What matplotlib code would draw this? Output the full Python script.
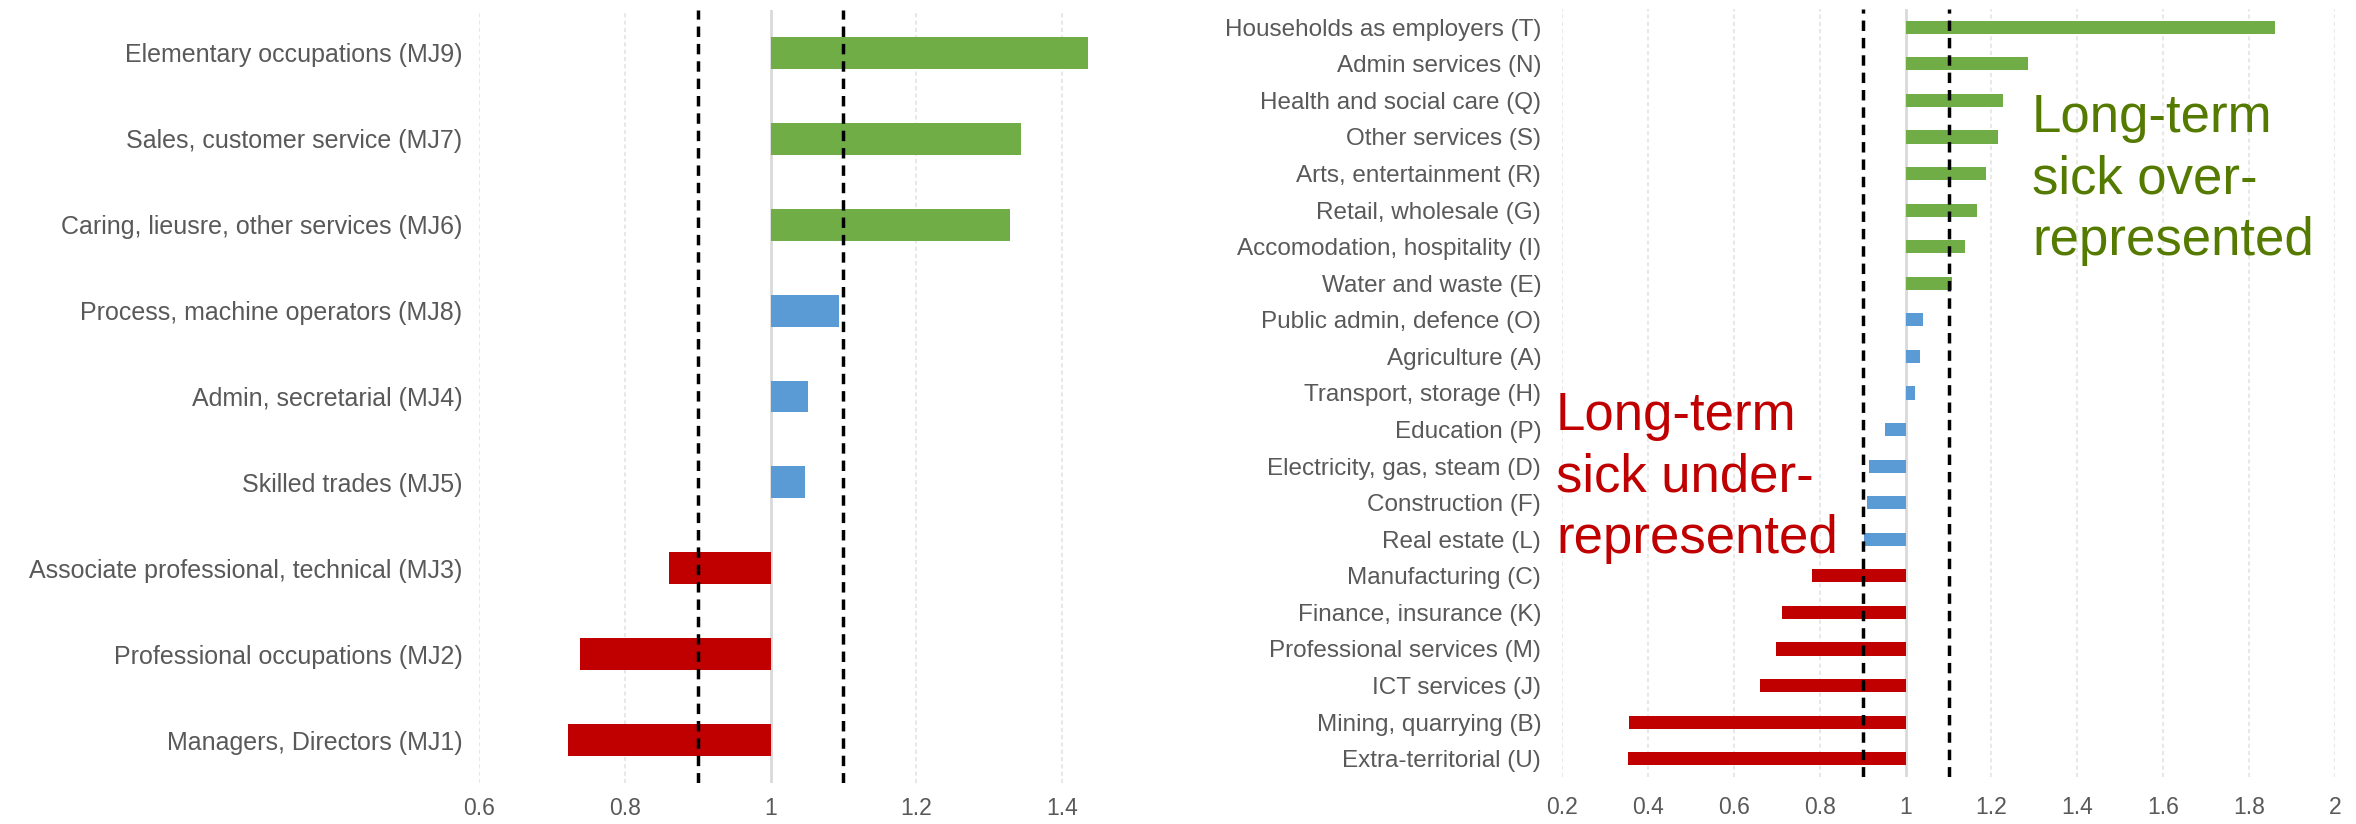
import matplotlib
matplotlib.use('Agg')
import matplotlib.pyplot as plt
import numpy as np

plt.rcParams['font.family'] = ['Liberation Sans', 'DejaVu Sans']

# occupations (left panel), top to bottom
occ_labels = ['Elementary occupations (MJ9)', 'Sales, customer service (MJ7)',
              'Caring, lieusre, other services (MJ6)', 'Process, machine operators (MJ8)',
              'Admin, secretarial (MJ4)', 'Skilled trades (MJ5)',
              'Associate professional, technical (MJ3)', 'Professional occupations (MJ2)',
              'Managers, Directors (MJ1)']
occ_values = [1.435, 1.343, 1.329, 1.094, 1.051, 1.047, 0.861, 0.738, 0.722]

# industries (right panel), top to bottom
ind_labels = ['Households as employers (T)', 'Admin services (N)', 'Health and social care (Q)',
              'Other services (S)', 'Arts, entertainment (R)', 'Retail, wholesale (G)',
              'Accomodation, hospitality (I)', 'Water and waste (E)', 'Public admin, defence (O)',
              'Agriculture (A)', 'Transport, storage (H)', 'Education (P)',
              'Electricity, gas, steam (D)', 'Construction (F)', 'Real estate (L)',
              'Manufacturing (C)', 'Finance, insurance (K)', 'Professional services (M)',
              'ICT services (J)', 'Mining, quarrying (B)', 'Extra-territorial (U)']
ind_values = [1.86, 1.284, 1.228, 1.216, 1.187, 1.167, 1.138, 1.108, 1.041, 1.033, 1.022,
              0.952, 0.915, 0.910, 0.903, 0.781, 0.712, 0.698, 0.661, 0.357, 0.354]

lo, hi = 0.9, 1.1
GREEN, BLUE, RED = '#70AD47', '#5B9BD5', '#C00000'
GREY = '#595959'


def bar_colour(v):
    if v > hi:
        return GREEN
    if v < lo:
        return RED
    return BLUE


def draw_panel(ax, labels, values, xticks, height, ypad, xpad, ysize):
    y = np.arange(len(values))
    vals = np.array(values)
    ax.barh(y, vals - 1, left=1, height=height,
            color=[bar_colour(v) for v in values], zorder=3)
    for t in xticks:
        if t == 1:
            ax.axvline(t, color='#D9D9D9', lw=2, zorder=1)
        else:
            ax.axvline(t, color='#E8E8E8', lw=1.5, ls=(0, (2, 1.5)), zorder=1)
    for t in (lo, hi):
        ax.axvline(t, color='black', lw=2.5, ls=(0, (3, 2)), zorder=4)
    ax.set_yticks(y)
    ax.set_yticklabels(labels)
    ax.set_ylim(len(values) - 0.5, -0.5)
    ax.set_xticks(xticks)
    ax.set_xticklabels(['%g' % t for t in xticks])
    ax.tick_params(axis='y', length=0, pad=ypad, labelsize=ysize, labelcolor=GREY)
    ax.tick_params(axis='x', length=0, pad=xpad, labelsize=16.5, labelcolor=GREY)
    for s in ax.spines.values():
        s.set_visible(False)


W, H = 2356, 824
fig = plt.figure(figsize=(W / 100, H / 100), dpi=100)

ax1 = fig.add_axes([479 / W, 1 - 783 / H, (1135 - 479) / W, (783 - 10) / H])
draw_panel(ax1, occ_labels, occ_values, [0.6, 0.8, 1.0, 1.2, 1.4], 0.37, 12, 10, 18)
ax1.set_xlim(0.6, 1.5)

ax2 = fig.add_axes([1562 / W, 1 - 777 / H, (2335 - 1562) / W, (777 - 9) / H])
draw_panel(ax2, ind_labels, ind_values, [0.2, 0.4, 0.6, 0.8, 1.0, 1.2, 1.4, 1.6, 1.8, 2.0],
           0.36, 15, 14, 17.5)
ax2.set_xlim(0.2, 2.0)

fig.text(2032 / W, 1 - 255 / H, 'Long-term\nsick over-\nrepresented', color='#557A00',
         fontsize=38, ha='left', va='baseline', linespacing=1.3)
fig.text(1556 / W, 1 - 553 / H, 'Long-term\nsick under-\nrepresented', color=RED,
         fontsize=38, ha='left', va='baseline', linespacing=1.3)

fig.savefig('out.png', dpi=100)
